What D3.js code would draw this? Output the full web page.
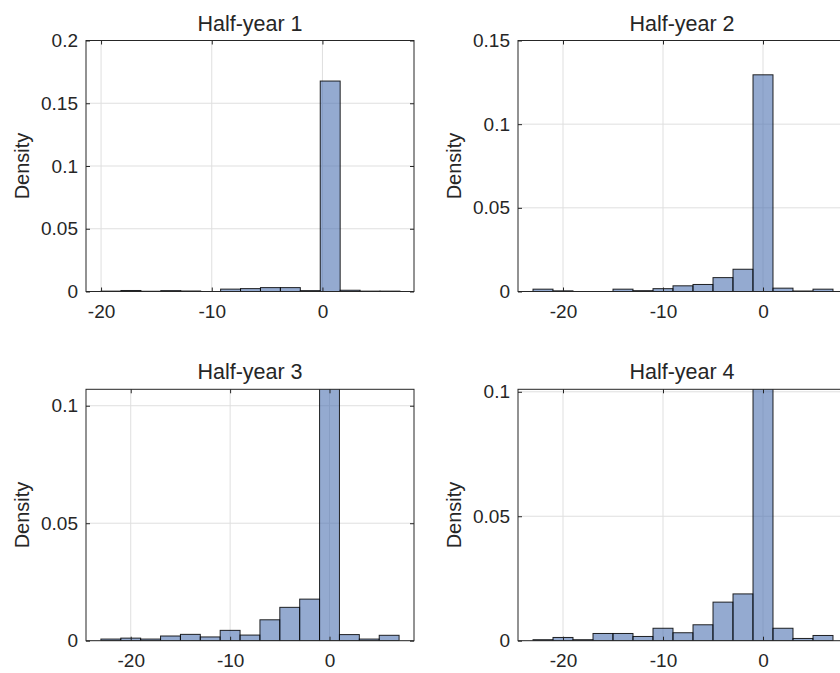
<!DOCTYPE html>
<html>
<head>
<meta charset="utf-8">
<script src="https://cdn.jsdelivr.net/npm/d3@7"></script>
<style>
  html, body { margin: 0; padding: 0; background: #ffffff; }
  svg { display: block; }
  text { font-family: "Liberation Sans", Arial, Helvetica, sans-serif; fill: #262626; }
</style>
</head>
<body>
<div id="chart"></div>
<script>
// ---------------- DATA ----------------
const titles = ["Half-year 1", "Half-year 2", "Half-year 3", "Half-year 4"];

const edges1 = [-20, -18.2, -16.4, -14.6, -12.8, -11, -9.2, -7.4, -5.6, -3.8, -2, -0.2, 1.6, 3.4, 5.2, 7.0];
const density1 = [0.0003, 0.0008, 0.0002, 0.0007, 0.0004, 0.0, 0.0019, 0.0023, 0.0031, 0.0031, 0.0007, 0.1677, 0.0010, 0.0003, 0.0003];

const edges2 = [-23, -21, -19, -17, -15, -13, -11, -9, -7, -5, -3, -1, 1, 3, 5, 7];
const density2 = [0.0014, 0.0004, 0.0, 0.0, 0.0014, 0.0005, 0.0017, 0.0034, 0.0042, 0.0083, 0.0133, 0.1295, 0.0020, 0.0003, 0.0014];

const edges3 = [-23, -21, -19, -17, -15, -13, -11, -9, -7, -5, -3, -1, 1, 3, 5, 7];
const density3 = [0.0007, 0.0011, 0.0007, 0.0020, 0.0027, 0.0016, 0.0044, 0.0024, 0.0089, 0.0142, 0.0177, 0.1150, 0.0026, 0.0007, 0.0023];

const edges4 = [-23, -21, -19, -17, -15, -13, -11, -9, -7, -5, -3, -1, 1, 3, 5, 7];
const density4 = [0.0004, 0.0013, 0.0004, 0.0029, 0.0029, 0.0017, 0.0050, 0.0032, 0.0064, 0.0155, 0.0188, 0.1100, 0.0050, 0.0009, 0.0021];

const xTicks = [-20, -10, 0];
const xTickLabels = ["-20", "-10", "0"];
const yTicks1 = [0, 0.05, 0.1, 0.15, 0.2];
const yTickLabels1 = ["0", "0.05", "0.1", "0.15", "0.2"];
const yTicks2 = [0, 0.05, 0.1, 0.15];
const yTickLabels2 = ["0", "0.05", "0.1", "0.15"];
const yTicks3 = [0, 0.05, 0.1];
const yTickLabels3 = ["0", "0.05", "0.1"];
const yTicks4 = [0, 0.05, 0.1];
const yTickLabels4 = ["0", "0.05", "0.1"];

const xDomains = [[-21.36, 8.27], [-24.5, 8.5], [-24.5, 8.5], [-24.5, 8.5]];
const yDomains = [[0, 0.2], [0, 0.15], [0, 0.107], [0, 0.101]];

// ---------------- LAYOUT ----------------
const W = 840, H = 673;
const boxes = [
  { left: 86,  top: 40.5,  width: 328, height: 251 },
  { left: 518, top: 40.5,  width: 330, height: 251 },
  { left: 86,  top: 389.3, width: 328, height: 251.4 },
  { left: 518, top: 389.3, width: 330, height: 251.4 }
];

const panels = [
  { title: titles[0], edges: edges1, values: density1, yTicks: yTicks1, yLabels: yTickLabels1 },
  { title: titles[1], edges: edges2, values: density2, yTicks: yTicks2, yLabels: yTickLabels2 },
  { title: titles[2], edges: edges3, values: density3, yTicks: yTicks3, yLabels: yTickLabels3 },
  { title: titles[3], edges: edges4, values: density4, yTicks: yTicks4, yLabels: yTickLabels4 }
];

const svg = d3.select("#chart").append("svg")
  .attr("width", W).attr("height", H)
  .attr("viewBox", `0 0 ${W} ${H}`);

const axisColor = "#262626";
const gridColor = "#dfdfdf";
const barFill = "#4c72b0";
const tickFont = 19;
const titleFont = 21.5;
const labelFont = 20;
const tickLen = 4;

panels.forEach((p, i) => {
  const b = boxes[i];
  const x = d3.scaleLinear().domain(xDomains[i]).range([b.left, b.left + b.width]);
  const y = d3.scaleLinear().domain(yDomains[i]).range([b.top + b.height, b.top]);

  const g = svg.append("g");
  const clipId = "clip" + i;
  svg.append("clipPath").attr("id", clipId)
    .append("rect").attr("x", b.left).attr("y", b.top).attr("width", b.width).attr("height", b.height);

  g.append("rect").attr("x", b.left).attr("y", b.top).attr("width", b.width).attr("height", b.height)
    .attr("fill", "#ffffff");

  // grid
  const grid = g.append("g").attr("clip-path", `url(#${clipId})`);
  grid.selectAll("line.vg").data(xTicks).enter().append("line")
    .attr("x1", d => x(d)).attr("x2", d => x(d))
    .attr("y1", b.top).attr("y2", b.top + b.height)
    .attr("stroke", gridColor).attr("stroke-width", 1);
  grid.selectAll("line.hg").data(p.yTicks).enter().append("line")
    .attr("y1", d => y(d)).attr("y2", d => y(d))
    .attr("x1", b.left).attr("x2", b.left + b.width)
    .attr("stroke", gridColor).attr("stroke-width", 1);

  // bars
  const bins = p.values.map((v, k) => ({ x0: p.edges[k], x1: p.edges[k + 1], v }));
  g.append("g").attr("clip-path", `url(#${clipId})`)
    .selectAll("rect").data(bins).enter().append("rect")
    .attr("x", d => x(d.x0))
    .attr("width", d => x(d.x1) - x(d.x0))
    .attr("y", d => y(d.v))
    .attr("height", d => y(0) - y(d.v))
    .attr("fill", barFill).attr("fill-opacity", 0.6)
    .attr("stroke", "#000000").attr("stroke-width", 1).attr("stroke-opacity", 0.85);

  // box
  g.append("rect").attr("x", b.left).attr("y", b.top).attr("width", b.width).attr("height", b.height)
    .attr("fill", "none").attr("stroke", axisColor).attr("stroke-width", 1);

  // axes (ticks inward)
  const xAxis = d3.axisBottom(x).tickValues(xTicks).tickSize(-tickLen).tickPadding(tickLen + 9)
    .tickFormat((d, k) => xTickLabels[k]);
  const xa = g.append("g").attr("transform", `translate(0,${b.top + b.height})`).call(xAxis);
  const xTop = d3.axisTop(x).tickValues(xTicks).tickSize(-tickLen).tickFormat("");
  const xt = g.append("g").attr("transform", `translate(0,${b.top})`).call(xTop);

  const yAxis = d3.axisLeft(y).tickValues(p.yTicks).tickSize(-tickLen).tickPadding(tickLen + 4)
    .tickFormat((d, k) => p.yLabels[k]);
  const ya = g.append("g").attr("transform", `translate(${b.left},0)`).call(yAxis);
  const yRight = d3.axisRight(y).tickValues(p.yTicks).tickSize(-tickLen).tickFormat("");
  const yr = g.append("g").attr("transform", `translate(${b.left + b.width},0)`).call(yRight);

  [xa, xt, ya, yr].forEach(a => {
    a.select(".domain").remove();
    a.selectAll(".tick line").attr("stroke", axisColor).attr("stroke-width", 1);
    a.selectAll(".tick text").attr("fill", axisColor).attr("font-size", tickFont)
      .attr("font-family", "'Liberation Sans', Arial, sans-serif");
  });

  // title
  g.append("text")
    .attr("x", b.left + 164)
    .attr("y", b.top - 10)
    .attr("text-anchor", "middle")
    .attr("font-size", titleFont)
    .text(p.title);

  // y label
  g.append("text")
    .attr("transform", `translate(${b.left - 57},${b.top + b.height / 2}) rotate(-90)`)
    .attr("text-anchor", "middle")
    .attr("font-size", labelFont)
    .text("Density");
});
</script>
</body>
</html>
